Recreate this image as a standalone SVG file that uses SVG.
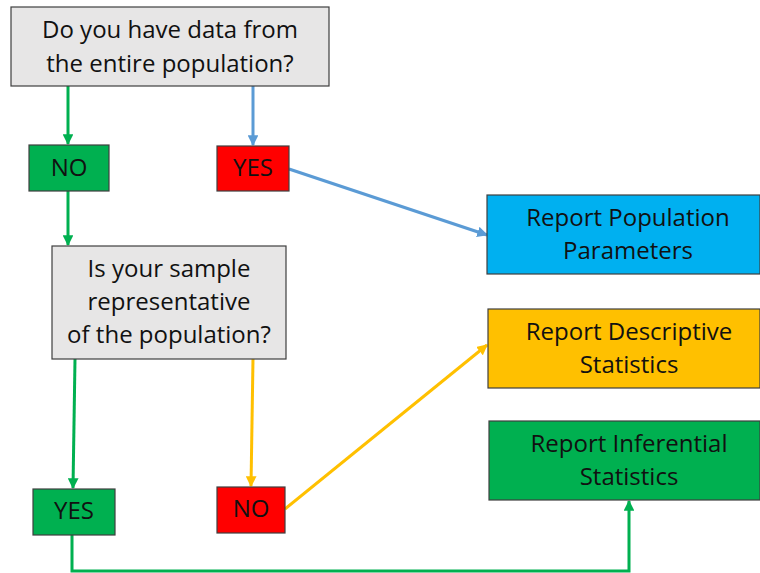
<svg xmlns="http://www.w3.org/2000/svg" width="760" height="573" viewBox="0 0 760 573">
<style>
.box{stroke:#3f3f3f;stroke-width:1.2}
.q{fill:#e7e6e6}
.g{fill:#00b050}
.r{fill:#ff0000}
.b{fill:#00b0f0}
.o{fill:#ffc000}
text{font-family:"Open Sans","Liberation Sans",sans-serif;font-size:24px;fill:#111;text-anchor:middle}
.cg{stroke:#00b050;stroke-width:3;fill:none}
.cb{stroke:#5b9bd5;stroke-width:3;fill:none}
.cy{stroke:#ffc000;stroke-width:3;fill:none}
</style>
<defs>
<marker id="ag" viewBox="0 0 10 10" refX="9" refY="5" markerWidth="3.6" markerHeight="3.6" orient="auto" markerUnits="strokeWidth"><path d="M0,0L10,5L0,10z" fill="#00b050"/></marker>
<marker id="ab" viewBox="0 0 10 10" refX="9" refY="5" markerWidth="3.6" markerHeight="3.6" orient="auto" markerUnits="strokeWidth"><path d="M0,0L10,5L0,10z" fill="#5b9bd5"/></marker>
<marker id="ay" viewBox="0 0 10 10" refX="9" refY="5" markerWidth="3.6" markerHeight="3.6" orient="auto" markerUnits="strokeWidth"><path d="M0,0L10,5L0,10z" fill="#ffc000"/></marker>
</defs>
<rect width="760" height="573" fill="#fff"/>
<g id="connectors">
<line class="cg" x1="68" y1="86" x2="68" y2="144" marker-end="url(#ag)"/>
<line class="cb" x1="253" y1="86" x2="253" y2="145" marker-end="url(#ab)"/>
<line class="cb" x1="289" y1="169" x2="487" y2="235" marker-end="url(#ab)"/>
<line class="cg" x1="68" y1="191" x2="68" y2="245" marker-end="url(#ag)"/>
<line class="cg" x1="75" y1="359" x2="73" y2="488" marker-end="url(#ag)"/>
<line class="cy" x1="253" y1="359" x2="251" y2="486" marker-end="url(#ay)"/>
<line class="cy" x1="285" y1="509" x2="487" y2="345" marker-end="url(#ay)"/>
<polyline class="cg" points="72,535 72,571 629,571 629,501" marker-end="url(#ag)"/>
</g>
<g id="q1">
<rect class="box q" x="11" y="7" width="318" height="79"/>
<text x="170" y="38">Do you have data from</text>
<text x="170" y="72">the entire population?</text>
</g>
<g id="no1">
<rect class="box g" x="29" y="145" width="80" height="46"/>
<text x="69" y="176">NO</text>
</g>
<g id="yes1">
<rect class="box r" x="217" y="146" width="72" height="45"/>
<text x="253" y="176">YES</text>
</g>
<g id="params">
<rect class="box b" x="487" y="195" width="273" height="79"/>
<text x="628" y="226">Report Population</text>
<text x="628" y="259">Parameters</text>
</g>
<g id="q2">
<rect class="box q" x="52" y="246" width="234" height="113"/>
<text x="169" y="277">Is your sample</text>
<text x="169" y="310">representative</text>
<text x="169" y="343">of the population?</text>
</g>
<g id="descriptive">
<rect class="box o" x="488" y="309" width="272" height="79"/>
<text x="629" y="340">Report Descriptive</text>
<text x="629" y="373">Statistics</text>
</g>
<g id="inferential">
<rect class="box g" x="489" y="421" width="271" height="79"/>
<text x="629" y="452">Report Inferential</text>
<text x="629" y="485">Statistics</text>
</g>
<g id="yes2">
<rect class="box g" x="33" y="489" width="82" height="46"/>
<text x="74" y="519">YES</text>
</g>
<g id="no2">
<rect class="box r" x="217" y="487" width="68" height="46"/>
<text x="251" y="517">NO</text>
</g>
</svg>
